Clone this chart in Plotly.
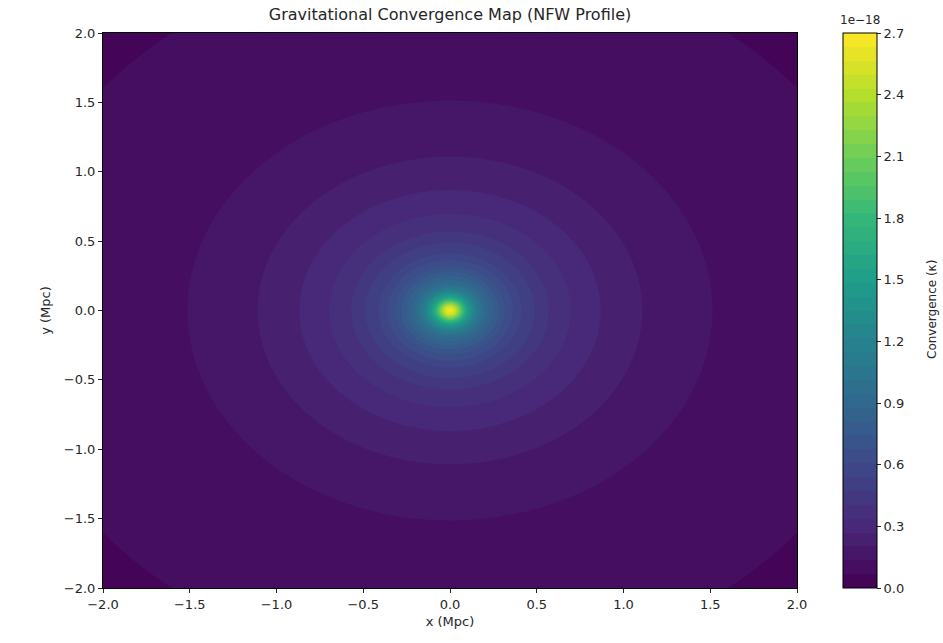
import numpy as np
import plotly.graph_objects as go

# Radial convergence profile (kappa in units of 1e-18)
radius_mpc = [0.0, 0.03, 0.05, 0.08, 0.10, 0.15, 0.20, 0.30, 0.40, 0.56, 0.69, 0.865, 1.10, 1.50, 2.00, 2.55, 2.85]
kappa_1e18 = [2.70, 2.50, 2.20, 1.75, 1.50, 1.12, 0.92, 0.70, 0.55, 0.41, 0.34, 0.271, 0.204, 0.136, 0.098, 0.068, 0.056]

colorbar_ticks = [0.0, 0.3, 0.6, 0.9, 1.2, 1.5, 1.8, 2.1, 2.4, 2.7]
axis_ticks = [-2.0, -1.5, -1.0, -0.5, 0.0, 0.5, 1.0, 1.5, 2.0]

n = 301
x = np.linspace(-2, 2, n)
y = np.linspace(-2, 2, n)
X, Y = np.meshgrid(x, y)
R = np.sqrt(X**2 + Y**2)
Z = np.interp(R, radius_mpc, kappa_1e18)

font_family = "DejaVu Sans"
txt = "#262626"
PW = 694  # plot width px
PH = 555  # plot height px

fig = go.Figure()
fig.add_trace(go.Contour(
    x=x, y=y, z=Z,
    colorscale="Viridis",
    zmin=0, zmax=2.7,
    contours=dict(start=0.0, end=2.7, size=0.0675, coloring="fill", showlines=False),
    line=dict(width=0),
    colorbar=dict(
        x=(843 - 103) / PW, xanchor="left", xpad=0,
        y=0.5, yanchor="middle", len=1, lenmode="fraction", ypad=0,
        thickness=34, thicknessmode="pixels",
        outlinewidth=1, outlinecolor="black",
        tickvals=colorbar_ticks, tickformat=".1f",
        ticks="outside", ticklen=4, tickcolor=txt,
        tickfont=dict(family=font_family, size=13, color=txt),
    ),
))

axis_common = dict(
    range=[-2, 2], tickvals=axis_ticks, tickformat=".1f",
    ticks="outside", ticklen=4, tickcolor=txt,
    showline=True, linecolor="black", linewidth=1, mirror=True,
    showgrid=False, zeroline=False,
    tickfont=dict(family=font_family, size=13, color=txt),
)

fig.update_layout(
    width=943, height=643,
    margin=dict(l=103, r=146, t=33, b=55),
    paper_bgcolor="white", plot_bgcolor="white",
    title=dict(text="Gravitational Convergence Map (NFW Profile)",
               x=450 / 943, xanchor="center", y=1 - 14 / 643, yanchor="middle",
               font=dict(family=font_family, size=16, color=txt)),
    xaxis=dict(**axis_common, title=dict(text="x (Mpc)", standoff=6,
               font=dict(family=font_family, size=13, color=txt))),
    yaxis=dict(**axis_common, title=dict(text="y (Mpc)", standoff=10,
               font=dict(family=font_family, size=13, color=txt))),
    annotations=[
        dict(text="1e−18", xref="paper", yref="paper",
             x=(860 - 103) / PW, y=1 + (33 - 20) / PH,
             xanchor="center", yanchor="middle", showarrow=False,
             font=dict(family=font_family, size=12, color=txt)),
        dict(text="Convergence (κ)", xref="paper", yref="paper",
             x=(932 - 103) / PW, y=1 - (310 - 33) / PH, textangle=-90,
             xanchor="center", yanchor="middle", showarrow=False,
             font=dict(family=font_family, size=12, color=txt)),
    ],
)

fig.write_html("out.html", config={"displayModeBar": False},
               post_script="document.body.style.margin='0';")
